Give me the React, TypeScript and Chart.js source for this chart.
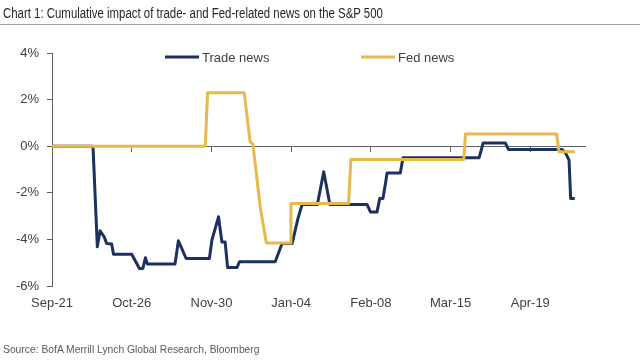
import React, { useEffect, useRef, useLayoutEffect } from "react";
import { Chart, registerables } from "chart.js";

Chart.register(...registerables);

// X values are days since Sep-21
const tickLabels = ["Sep-21", "Oct-26", "Nov-30", "Jan-04", "Feb-08", "Mar-15", "Apr-19"];
const tickStepDays = 35;
const axisMaxDays = 234;

const tradeDays = [0, 18, 19.9, 21.1, 22.9, 24, 26.2, 27, 35, 38.4, 39.9, 41, 41.9, 54, 55.5, 58.9, 69.1, 70.2, 73.1, 74.6, 76, 77.1, 81.2, 82.3, 98, 101, 105.4, 108, 109.8, 116.5, 119.3, 122, 131, 138.3, 139.8, 142.7, 143.9, 145.3, 146.4, 147.1, 152.9, 154.1, 187.5, 189.3, 199, 200.4, 224, 225.5, 227, 227.7, 229.5];
const tradeValues = [0, 0, -4.32, -3.63, -3.89, -4.18, -4.2, -4.64, -4.64, -5.25, -5.25, -4.79, -5.06, -5.06, -4.06, -4.82, -4.82, -4.03, -3.03, -4.11, -4.11, -5.21, -5.21, -4.96, -4.96, -4.18, -4.18, -3.1, -2.5, -2.5, -1.1, -2.5, -2.5, -2.5, -2.82, -2.82, -2.24, -2.24, -1.6, -1.15, -1.15, -0.5, -0.5, 0.14, 0.14, -0.14, -0.14, -0.3, -0.6, -2.24, -2.24];

const fedDays = [0, 67.3, 68.3, 84.4, 87, 88.2, 89.2, 91.4, 94.1, 104.6, 104.9, 130.2, 131.2, 180.8, 181.5, 221.5, 222.6, 229.5];
const fedValues = [0, 0, 2.29, 2.29, 0.18, 0.1, -0.74, -2.6, -4.15, -4.15, -2.46, -2.46, -0.57, -0.57, 0.52, 0.52, -0.24, -0.24];

const NAVY = "#1c3160";
const GOLD = "#e6b94a";
const TEXT = "#404040";
const AXIS = "#606060";
const FONT = "'Liberation Sans', Arial, sans-serif";

const legendPlugin = {
  id: "inlineLegend",
  afterDatasetsDraw(chart: any) {
    const ctx = chart.ctx;
    const ca = chart.chartArea;
    const items = [
      { ds: chart.data.datasets[0], x: ca.left + 113 },
      { ds: chart.data.datasets[1], x: ca.left + 309 },
    ];
    const y = ca.top + 4;
    ctx.save();
    items.forEach((it) => {
      ctx.strokeStyle = it.ds.borderColor;
      ctx.lineWidth = 3;
      ctx.beginPath();
      ctx.moveTo(it.x, y);
      ctx.lineTo(it.x + 34, y);
      ctx.stroke();
      ctx.fillStyle = TEXT;
      ctx.font = `13px ${FONT}`;
      ctx.textBaseline = "middle";
      ctx.textAlign = "left";
      ctx.fillText(it.ds.label, it.x + 37, y + 1);
    });
    ctx.restore();
  },
};

function FitText({ text, width, style }: { text: string; width: number; style: any }) {
  const ref = useRef<HTMLSpanElement>(null);
  useLayoutEffect(() => {
    const el = ref.current;
    if (!el) return;
    el.style.transform = "none";
    const w = el.offsetWidth;
    if (w > 0) el.style.transform = `scaleX(${width / w})`;
  }, [text, width]);
  return (
    <span ref={ref} style={{ ...style, display: "inline-block", whiteSpace: "nowrap", transformOrigin: "left center" }}>
      {text}
    </span>
  );
}

export default function App() {
  const canvasRef = useRef<HTMLCanvasElement>(null);

  useEffect(() => {
    if (!canvasRef.current) return;
    const chart = new Chart(canvasRef.current, {
      type: "line",
      data: {
        datasets: [
          {
            label: "Trade news",
            data: tradeDays.map((d, i) => ({ x: d, y: tradeValues[i] })),
            borderColor: NAVY,
            borderWidth: 3,
            pointRadius: 0,
            tension: 0,
            borderJoinStyle: "round",
            order: 2,
            xAxisID: "x",
            yAxisID: "y",
          },
          {
            label: "Fed news",
            data: fedDays.map((d, i) => ({ x: d, y: fedValues[i] })),
            borderColor: GOLD,
            borderWidth: 3,
            pointRadius: 0,
            tension: 0,
            borderJoinStyle: "round",
            order: 1,
            xAxisID: "x",
            yAxisID: "y",
          },
        ],
      },
      options: {
        animation: false,
        responsive: false,
        maintainAspectRatio: false,
        layout: { padding: { left: 12, top: 53, right: 55, bottom: 44 } },
        plugins: { legend: { display: false }, tooltip: { enabled: false }, title: { display: false } },
        scales: {
          x: {
            type: "linear",
            min: 0,
            max: axisMaxDays,
            position: { y: 0 },
            grid: { display: true, drawOnChartArea: false, drawTicks: true, tickLength: 5, color: AXIS, lineWidth: 1 },
            border: { display: true, color: AXIS, width: 1 },
            ticks: { display: false, stepSize: tickStepDays, includeBounds: false },
          },
          x2: {
            type: "linear",
            min: 0,
            max: axisMaxDays,
            position: "bottom",
            grid: { display: false, drawTicks: false },
            border: { display: false },
            ticks: {
              stepSize: tickStepDays,
              includeBounds: false,
              autoSkip: false,
              maxRotation: 0,
              padding: 10,
              color: TEXT,
              font: { family: FONT, size: 13 },
              callback: (v: any) => tickLabels[Math.round(Number(v) / tickStepDays)] ?? "",
            },
            afterFit: (s: any) => {
              s.height = 30;
            },
          },
          y: {
            type: "linear",
            min: -6,
            max: 4,
            grid: { display: true, drawOnChartArea: false, drawTicks: true, tickLength: 5, color: AXIS, lineWidth: 1 },
            border: { display: true, color: AXIS, width: 1 },
            ticks: {
              stepSize: 2,
              padding: 8,
              color: TEXT,
              font: { family: FONT, size: 13 },
              callback: (v: any) => `${v}%`,
            },
            afterFit: (s: any) => {
              s.width = 40;
            },
          },
        },
      },
      plugins: [legendPlugin],
    } as any);
    return () => chart.destroy();
  }, []);

  return (
    <div style={{ position: "fixed", left: 0, top: 0, width: 640, height: 360, background: "#fff", overflow: "hidden" }}>
      <canvas ref={canvasRef} width={640} height={360} style={{ position: "absolute", left: 0, top: 0, width: 640, height: 360 }} />
      <div style={{ position: "absolute", left: 3, top: 4, lineHeight: "17px" }}>
        <FitText
          text="Chart 1: Cumulative impact of trade- and Fed-related news on the S&P 500"
          width={380}
          style={{ fontFamily: FONT, fontSize: 14, color: "#262626" }}
        />
      </div>
      <div style={{ position: "absolute", left: 0, top: 24, width: 640, height: 1, background: "#a0a0a0" }} />
      <div style={{ position: "absolute", left: 3, top: 340, lineHeight: "15px" }}>
        <FitText
          text="Source: BofA Merrill Lynch Global Research, Bloomberg"
          width={257}
          style={{ fontFamily: FONT, fontSize: 11, color: "#595959" }}
        />
      </div>
    </div>
  );
}
